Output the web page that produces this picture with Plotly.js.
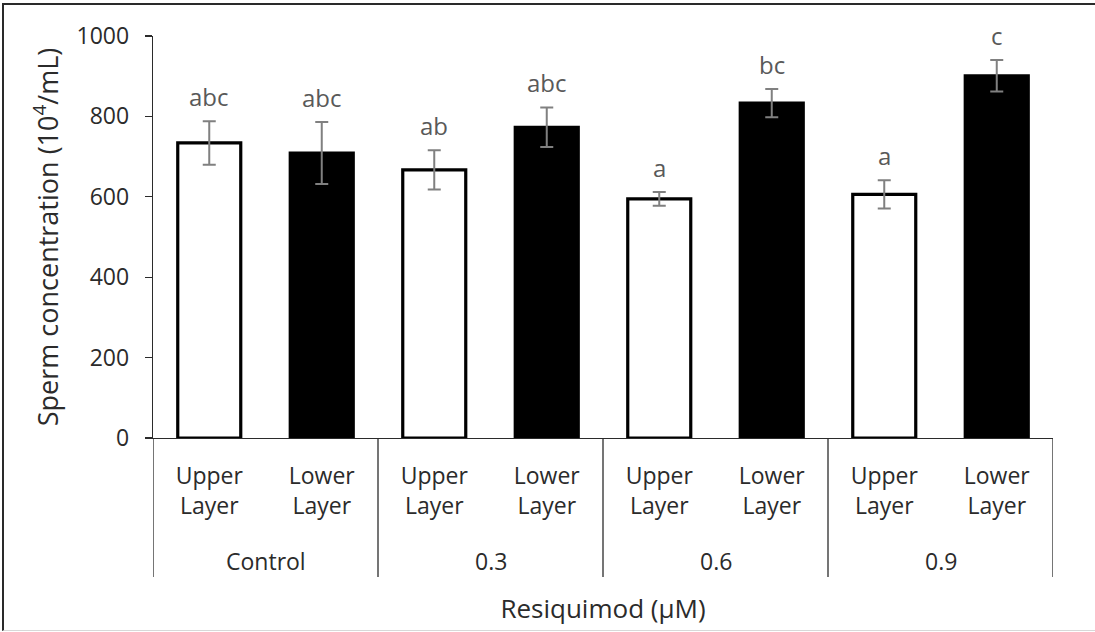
<!DOCTYPE html>
<html>
<head>
<meta charset="utf-8">
<script src="https://cdn.plot.ly/plotly-3.0.1.min.js"></script>
<style>
  html, body { margin: 0; padding: 0; background: #fff; }
  #wrap { position: relative; width: 1095px; height: 632px; }
  #chart { width: 1095px; height: 632px; }
  #frame { position: absolute; left: 2px; top: 3px; right: 0; bottom: 1px;
           border-top: 2px solid #2a2a2a; border-left: 2px solid #2a2a2a;
           border-bottom: 1px solid #d8d8d8; pointer-events: none; }
</style>
</head>
<body>
<div id="wrap"><div id="chart"></div><div id="frame"></div></div>
<script>
// ---- data ----
const groups = ["Control", "0.3", "0.6", "0.9"];
const layers = ["Upper Layer", "Lower Layer"];
const layerTickText = ["Upper<br>Layer", "Lower<br>Layer"];
const upperMeans = [734, 667, 595, 606];
const upperErrors = [54, 49, 17, 35];
const lowerMeans = [709, 773, 833, 901];
const lowerErrors = [77, 49, 35, 39];
const upperLetters = ["abc", "ab", "a", "a"];
const lowerLetters = ["abc", "abc", "bc", "c"];
const yTickVals = [0, 200, 400, 600, 800, 1000];
const yRange = [0, 1000];

// ---- positions (index of each bar along the axis) ----
const upperX = groups.map((g, i) => i * 2);
const lowerX = groups.map((g, i) => i * 2 + 1);
const allX = groups.flatMap((g, i) => [i * 2, i * 2 + 1]);
const allTickText = groups.flatMap(() => layerTickText);

const FONT = "Open Sans, Lato, sans-serif";
const TXT = "#2b2b2b";
const ERR = "#808080";

const errStyle = (arr) => ({ type: "data", array: arr, visible: true,
  color: ERR, thickness: 2, width: 6.5 });

const traces = [
  { type: "bar", name: layers[0], x: upperX, y: upperMeans,
    width: 0.56,
    marker: { color: "#ffffff", line: { color: "#000000", width: 3.2 } },
    error_y: errStyle(upperErrors), hoverinfo: "y" },
  { type: "bar", name: layers[1], x: lowerX, y: lowerMeans,
    width: 0.56,
    marker: { color: "#000000", line: { color: "#000000", width: 3.2 } },
    error_y: errStyle(lowerErrors), hoverinfo: "y" }
];

// value on the y axis -> paper fraction (so labels above the range still show)
const toPaper = (v) => (v - yRange[0]) / (yRange[1] - yRange[0]);

// letter annotations above error bars
const annotations = [];
const letterOffset = 62;
groups.forEach((g, i) => {
  annotations.push({ x: upperX[i], y: toPaper(upperMeans[i] + upperErrors[i] + letterOffset),
    xref: "x", yref: "paper", text: upperLetters[i], showarrow: false,
    yanchor: "middle", font: { family: FONT, size: 24, color: "#595959" } });
  annotations.push({ x: lowerX[i], y: toPaper(lowerMeans[i] + lowerErrors[i] + letterOffset),
    xref: "x", yref: "paper", text: lowerLetters[i], showarrow: false,
    yanchor: "middle", font: { family: FONT, size: 24, color: "#595959" } });
  // group labels
  annotations.push({ x: i * 2 + 0.5, y: -0.306, xref: "x", yref: "paper",
    text: g, showarrow: false, yanchor: "middle",
    font: { family: FONT, size: 23, color: TXT } });
});

// group dividers below the axis
const shapes = [];
for (let k = 0; k <= groups.length; k++) {
  shapes.push({ type: "line", xref: "x", yref: "paper",
    x0: k * 2 - 0.5, x1: k * 2 - 0.5, y0: 0, y1: -0.346,
    line: { color: "#2b2b2b", width: 1.3 } });
}

const layout = {
  width: 1095, height: 632,
  margin: { l: 153, r: 42, t: 36, b: 194, pad: 0 },
  paper_bgcolor: "#ffffff", plot_bgcolor: "#ffffff",
  showlegend: false,
  barmode: "overlay",
  font: { family: FONT, color: TXT },
  xaxis: {
    range: [-0.5, 7.5], tickmode: "array", tickvals: allX, ticktext: allTickText,
    showline: true, linecolor: "#2b2b2b", linewidth: 1.3,
    ticks: "", showgrid: false, zeroline: false, fixedrange: true,
    tickfont: { family: FONT, size: 23, color: TXT },
    ticklabelstandoff: 17,
    title: { text: "Resiquimod (µM)", font: { family: FONT, size: 26, color: TXT }, standoff: 80 },
    automargin: false
  },
  yaxis: {
    range: yRange, tickmode: "array", tickvals: yTickVals,
    showline: true, linecolor: "#2b2b2b", linewidth: 1.3,
    ticks: "outside", ticklen: 7, tickcolor: "#2b2b2b", tickwidth: 1.3,
    showgrid: false, zeroline: false, fixedrange: true,
    tickfont: { family: FONT, size: 23, color: TXT },
    ticklabelstandoff: 11,
    title: { text: "Sperm concentration (10<sup>4</sup>/mL)", font: { family: FONT, size: 27, color: TXT }, standoff: 10 },
    automargin: false
  },
  annotations: annotations,
  shapes: shapes
};

Plotly.newPlot("chart", traces, layout, { displayModeBar: false, staticPlot: true });
</script>
</body>
</html>
